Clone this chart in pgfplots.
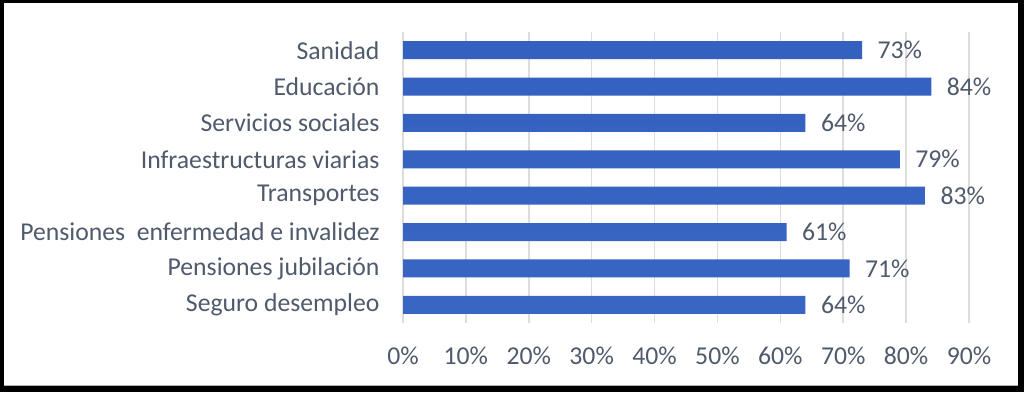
\documentclass[border=0pt]{standalone}
\usepackage{pgfplots}
\pgfplotsset{compat=1.18}
\usepackage{fontspec}
\setmainfont{Carlito}
\definecolor{txt}{HTML}{4F5A6C}
\definecolor{gridc}{HTML}{DDDDE0}
\definecolor{bartop}{HTML}{3460C0}
\definecolor{barmid}{HTML}{5C86D6}
\definecolor{barbot}{HTML}{3966C3}
\begin{document}
\begin{tikzpicture}[x=1pt,y=1pt]
\useasboundingbox (0,0) rectangle (1024,392);
\fill[black] (0,0) rectangle (1024,392);
\fill[white] (4,6) rectangle (1018,389);
\draw[gray!60, line width=0.8pt] (4,6.5) -- (1018,6.5);
\begin{axis}[
  at={(403pt,69pt)}, anchor=south west,
  width=566pt, height=291pt, scale only axis,
  xbar, bar width=18pt,
  xmin=0, xmax=90, ymin=-0.5, ymax=7.5,
  xtick={0,10,...,90},
  /pgf/number format/assume math mode=true,
  xticklabel={\pgfmathprintnumber{\tick}\%},
  ytick={0,...,7},
  yticklabels={Seguro desempleo, Pensiones jubilación, Pensiones\ \ enfermedad e invalidez, Transportes, Infraestructuras viarias, Servicios sociales, Educación, Sanidad},
  axis lines*=left,
  axis line style={draw=none},
  major tick length=0pt,
  xmajorgrids, major grid style={draw=gridc, line width=1.5pt},
  tick label style={font=\fontsize{25.7}{30}\selectfont, text=txt},
  xticklabel style={yshift=-20pt},
  yticklabel style={xshift=-20pt},
  nodes near coords={\pgfmathprintnumber{\pgfplotspointmeta}\%},
  nodes near coords style={font=\fontsize{25.7}{30}\selectfont, text=txt, anchor=west, xshift=12pt},
]
\addplot[draw=none, top color=bartop, middle color=barmid, bottom color=barbot] coordinates {
(64,0) (71,1) (61,2) (83,3) (79,4) (64,5) (84,6) (73,7)
};
\end{axis}
\end{tikzpicture}
\end{document}
